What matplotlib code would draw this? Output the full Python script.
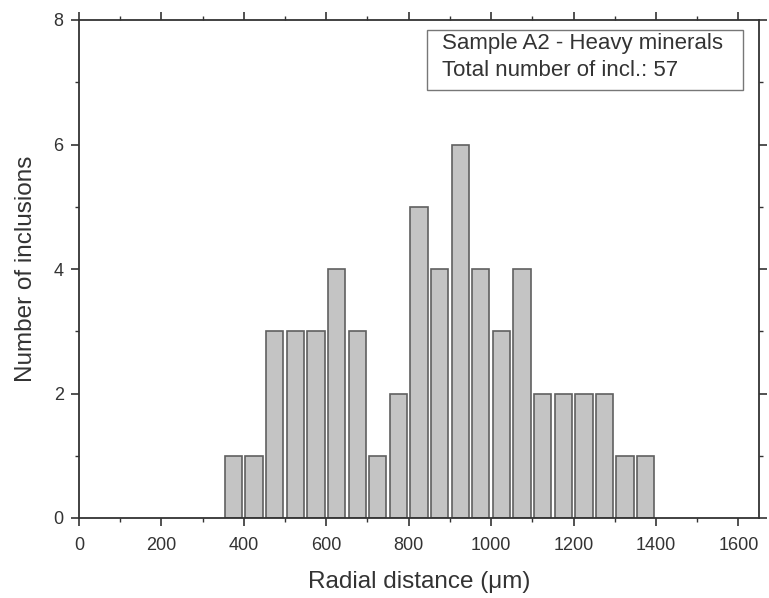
import matplotlib
matplotlib.use("Agg")
import matplotlib.pyplot as plt
from matplotlib.ticker import MultipleLocator
from matplotlib.patches import Rectangle

bin_centers = [375, 425, 475, 525, 575, 625, 675, 725, 775, 825, 875, 925,
               975, 1025, 1075, 1125, 1175, 1225, 1275, 1325, 1375]
counts = [1, 1, 3, 3, 3, 4, 3, 1, 2, 5, 4, 6, 4, 3, 4, 2, 2, 2, 2, 1, 1]
x_ticks = [0, 200, 400, 600, 800, 1000, 1200, 1400, 1600]
y_ticks = [0, 2, 4, 6, 8]
box_text = "Sample A2 - Heavy minerals\nTotal number of incl.: 57"

plt.rcParams['font.family'] = ['Liberation Sans', 'DejaVu Sans']
W, H = 769, 598
fig = plt.figure(figsize=(W/100, H/100), dpi=100)
L, R, T, B = 79, 759, 20, 518
ax = fig.add_axes([L/W, 1 - B/H, (R-L)/W, (B-T)/H])

ax.bar(bin_centers, counts, width=42, color='#c4c4c4', edgecolor='#606060', linewidth=1.2, zorder=2)

ax.set_xlim(0, 1650)
ax.set_ylim(0, 8)
ax.set_xticks(x_ticks)
ax.set_yticks(y_ticks)
ax.xaxis.set_minor_locator(MultipleLocator(100))
ax.yaxis.set_minor_locator(MultipleLocator(1))

for s in ax.spines.values():
    s.set_linewidth(1.3)
    s.set_color('#333333')

ax.tick_params(which='both', direction='out', top=True, right=True, colors='#333333',
               labelsize=13, labelcolor='#333333')
ax.tick_params(which='major', length=6, width=1.2, pad=5)
ax.tick_params(axis='x', which='major', pad=8)
ax.tick_params(which='minor', length=3, width=1.0)

ax.set_xlabel("Radial distance (\u03bcm)", fontsize=17.5, color='#333333', labelpad=12)
ax.set_ylabel("Number of inclusions", fontsize=17.5, color='#333333', labelpad=12)

# legend-like box
bx0, bx1, by0, by1 = 427, 743, 30, 90
ax.add_patch(Rectangle(((bx0-L)/(R-L), (B-by1)/(B-T)), (bx1-bx0)/(R-L), (by1-by0)/(B-T),
                       transform=ax.transAxes, facecolor='white', edgecolor='#777777',
                       linewidth=1.0, zorder=3))
ax.text((442-L)/(R-L), (B-by0-3)/(B-T), box_text, transform=ax.transAxes, fontsize=16,
        color='#333333', va='top', ha='left', linespacing=1.4, zorder=4)

fig.savefig("out.png", dpi=100)
